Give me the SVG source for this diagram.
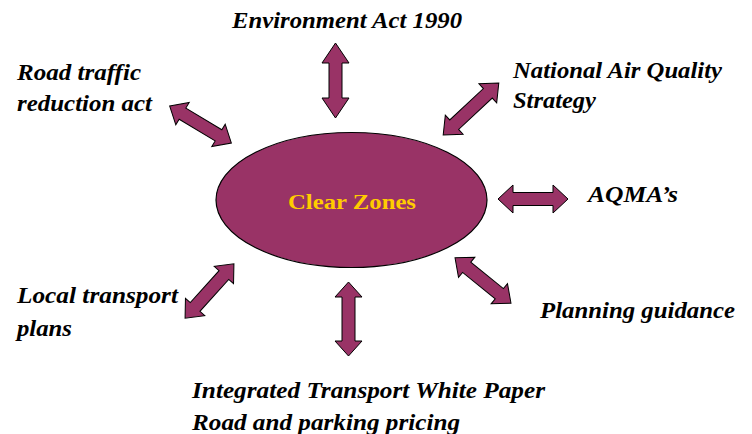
<svg xmlns="http://www.w3.org/2000/svg" width="752" height="434" viewBox="0 0 752 434">
  <style>
    .lbl { font-family: 'Liberation Serif', 'Times New Roman', serif; font-weight: bold; font-style: italic; font-size: 23px; fill: #000; }
    .arrow { fill: #993366; stroke: #000; stroke-width: 1; stroke-linejoin: miter; }
    .hub { fill: #993366; stroke: #000; stroke-width: 1.2; }
    .hubtxt { font-family: 'Liberation Serif', 'Times New Roman', serif; font-weight: bold; font-size: 22px; fill: #FFCC00; }
  </style>
  <rect width="752" height="434" fill="#fff"/>

  <g id="connectors">
    <!-- double-headed block arrows, drawn along local x axis -->
    <path class="arrow" transform="translate(335.5,80.5) rotate(90)" d="M-37.5,0 L-17.5,-13.5 L-17.5,-6.5 L17.5,-6.5 L17.5,-13.5 L37.5,0 L17.5,13.5 L17.5,6.5 L-17.5,6.5 L-17.5,13.5 Z"/>
    <path class="arrow" transform="translate(348.5,319) rotate(90)" d="M-37,0 L-22,-13.5 L-22,-6.5 L22,-6.5 L22,-13.5 L37,0 L22,13.5 L22,6.5 L-22,6.5 L-22,13.5 Z"/>
    <path class="arrow" transform="translate(533,199)" d="M-35,0 L-20,-14 L-20,-6.5 L20,-6.5 L20,-14 L35,0 L20,14 L20,6.5 L-20,6.5 L-20,14 Z"/>
    <path class="arrow" transform="translate(200.5,124.5) rotate(31)" d="M-36,0 L-21,-13 L-21,-6.5 L21,-6.5 L21,-13 L36,0 L21,13 L21,6.5 L-21,6.5 L-21,13 Z"/>
    <path class="arrow" transform="translate(471,109) rotate(-43)" d="M-38,0 L-23,-13 L-23,-6.5 L23,-6.5 L23,-13 L38,0 L23,13 L23,6.5 L-23,6.5 L-23,13 Z"/>
    <path class="arrow" transform="translate(483,280.5) rotate(39)" d="M-36,0 L-21,-13 L-21,-6.5 L21,-6.5 L21,-13 L36,0 L21,13 L21,6.5 L-21,6.5 L-21,13 Z"/>
    <path class="arrow" transform="translate(209.5,291) rotate(-48)" d="M-36.5,0 L-21.5,-13 L-21.5,-6.5 L21.5,-6.5 L21.5,-13 L36.5,0 L21.5,13 L21.5,6.5 L-21.5,6.5 L-21.5,13 Z"/>
  </g>

  <g id="clear-zones">
    <ellipse class="hub" cx="351.5" cy="200" rx="135.5" ry="67.5"/>
    <text class="hubtxt" x="288" y="209" textLength="128" lengthAdjust="spacingAndGlyphs">Clear Zones</text>
  </g>

  <g id="environment-act">
    <text class="lbl" x="232" y="28" textLength="230" lengthAdjust="spacingAndGlyphs">Environment Act 1990</text>
  </g>
  <g id="road-traffic">
    <text class="lbl" x="17" y="80" textLength="124" lengthAdjust="spacingAndGlyphs">Road traffic</text>
    <text class="lbl" x="17" y="111" textLength="135" lengthAdjust="spacingAndGlyphs">reduction act</text>
  </g>
  <g id="national-air-quality">
    <text class="lbl" x="513" y="78" textLength="209" lengthAdjust="spacingAndGlyphs">National Air Quality</text>
    <text class="lbl" x="513" y="108" textLength="83" lengthAdjust="spacingAndGlyphs">Strategy</text>
  </g>
  <g id="aqma">
    <text class="lbl" x="588" y="202" textLength="90" lengthAdjust="spacingAndGlyphs">AQMA’s</text>
  </g>
  <g id="planning-guidance">
    <text class="lbl" x="540" y="318" textLength="195" lengthAdjust="spacingAndGlyphs">Planning guidance</text>
  </g>
  <g id="local-transport">
    <text class="lbl" x="17" y="303" textLength="161" lengthAdjust="spacingAndGlyphs">Local transport</text>
    <text class="lbl" x="17" y="336" textLength="55" lengthAdjust="spacingAndGlyphs">plans</text>
  </g>
  <g id="integrated-transport">
    <text class="lbl" x="192" y="398" textLength="353" lengthAdjust="spacingAndGlyphs">Integrated Transport White Paper</text>
    <text class="lbl" x="192" y="430" textLength="268" lengthAdjust="spacingAndGlyphs">Road and parking pricing</text>
  </g>
</svg>
